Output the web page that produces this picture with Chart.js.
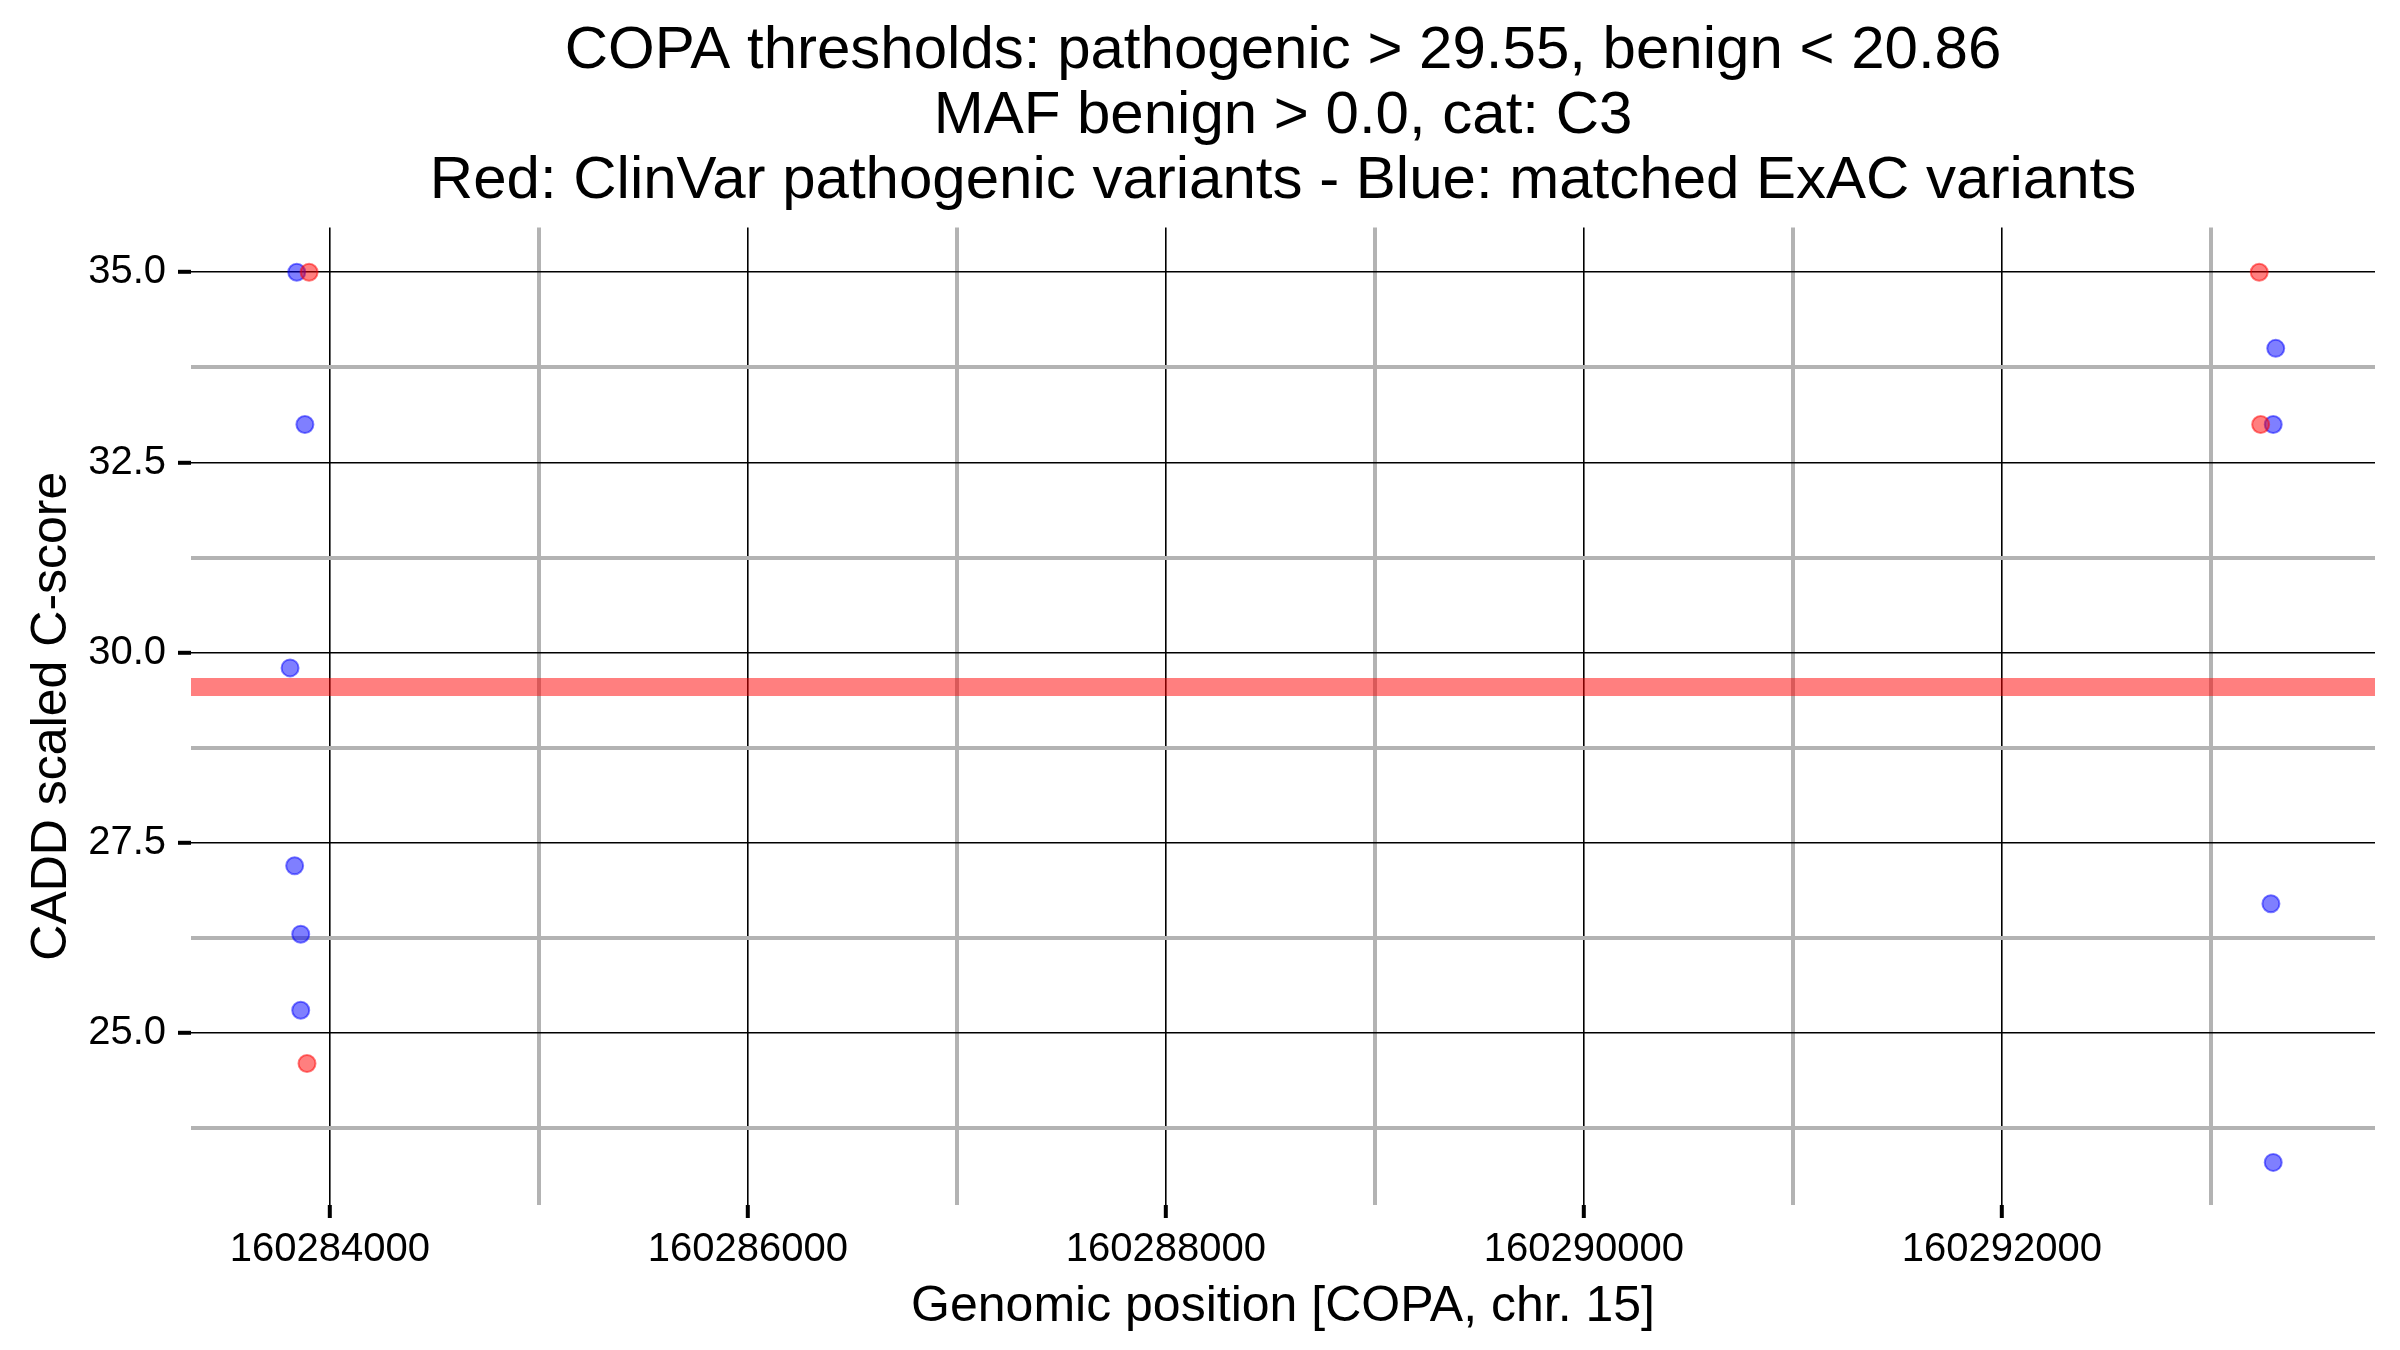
<!DOCTYPE html>
<html>
<head>
<meta charset="utf-8">
<script src="https://cdn.jsdelivr.net/npm/chart.js@4"></script>
<style>
  html, body { margin: 0; padding: 0; background: #fff; }
  #wrap { width: 2400px; height: 1350px; }
</style>
</head>
<body>
<div id="wrap"><canvas id="chart" width="2400" height="1350"></canvas></div>
<script>
// ClinVar pathogenic (red) and matched ExAC (blue) variants
const redPositions = [160283900, 160283890, 160293231, 160293238];
const redScores    = [35.0, 24.6, 35.0, 33.0];
const bluePositions = [160283841, 160283880, 160283809, 160283831, 160283860, 160283860, 160293310, 160293298, 160293287, 160293298];
const blueScores    = [35.0, 33.0, 29.8, 27.2, 26.3, 25.3, 34.0, 33.0, 26.7, 23.3];

const pathogenicThreshold = 29.55;

const xRange = [160283335, 160293785];
const yRange = [22.74, 35.59];
const xMajorTicks = [160284000, 160286000, 160288000, 160290000, 160292000];
const xMinorTicks = [160285000, 160287000, 160289000, 160291000, 160293000];
const yMajorTicks = [25.0, 27.5, 30.0, 32.5, 35.0];
const yMinorTicks = [23.75, 26.25, 28.75, 31.25, 33.75];

const titleLines = [
  'COPA thresholds: pathogenic > 29.55, benign < 20.86',
  'MAF benign > 0.0, cat: C3',
  'Red: ClinVar pathogenic variants - Blue: matched ExAC variants'
];

const FONT = 'Liberation Sans, Arial, Helvetica, sans-serif';
const toPoints = (xs, ys) => xs.map((x, i) => ({ x, y: ys[i] }));

function gridFor(majors) {
  const isMajor = ctx => ctx.tick && majors.includes(ctx.tick.value);
  return {
    color: ctx => isMajor(ctx) ? '#000000' : '#b3b3b3',
    lineWidth: ctx => isMajor(ctx) ? 1.6 : 4,
    tickColor: ctx => isMajor(ctx) ? '#000000' : 'rgba(0,0,0,0)',
    tickWidth: 4,
    tickLength: 13,
    drawTicks: true
  };
}

const ctx = document.getElementById('chart').getContext('2d');
new Chart(ctx, {
  type: 'scatter',
  data: {
    datasets: [
      {
        label: 'threshold',
        type: 'line',
        data: [{ x: xRange[0], y: pathogenicThreshold }, { x: xRange[1], y: pathogenicThreshold }],
        borderColor: 'rgba(255,0,0,0.5)',
        borderWidth: 18,
        borderCapStyle: 'butt',
        pointRadius: 0,
        fill: false,
        order: 3
      },
      {
        label: 'ExAC',
        data: toPoints(bluePositions, blueScores),
        backgroundColor: 'rgba(0,0,255,0.5)',
        borderColor: 'rgba(0,0,255,0.5)',
        borderWidth: 2,
        pointRadius: 8.5,
        order: 2
      },
      {
        label: 'ClinVar',
        data: toPoints(redPositions, redScores),
        backgroundColor: 'rgba(255,0,0,0.5)',
        borderColor: 'rgba(255,0,0,0.5)',
        borderWidth: 2,
        pointRadius: 8.5,
        order: 1
      }
    ]
  },
  options: {
    responsive: false,
    devicePixelRatio: 1,
    animation: false,
    layout: { padding: { left: 0, right: 25, top: 0, bottom: 0 } },
    plugins: {
      legend: { display: false },
      tooltip: { enabled: false },
      title: {
        display: true,
        fullSize: false,
        text: titleLines,
        color: '#000',
        font: { family: FONT, size: 60, weight: 'normal', lineHeight: 1.08 },
        padding: { top: 19, bottom: 14 }
      }
    },
    scales: {
      x: {
        type: 'linear',
        min: xRange[0],
        max: xRange[1],
        border: { display: false },
        grid: gridFor(xMajorTicks),
        afterBuildTicks: s => { s.ticks = xMajorTicks.concat(xMinorTicks).sort((a, b) => a - b).map(v => ({ value: v })); },
        afterFit: s => { s.height = 145; },
        ticks: {
          autoSkip: false,
          maxRotation: 0,
          padding: 8,
          color: '#000',
          font: { family: FONT, size: 40 },
          callback: v => xMajorTicks.includes(v) ? String(v) : ''
        },
        title: {
          display: true,
          text: 'Genomic position [COPA, chr. 15]',
          color: '#000',
          font: { family: FONT, size: 50, lineHeight: 1.2 },
          padding: { top: 0, bottom: 13 }
        }
      },
      y: {
        type: 'linear',
        min: yRange[0],
        max: yRange[1],
        border: { display: false },
        grid: gridFor(yMajorTicks),
        afterBuildTicks: s => { s.ticks = yMajorTicks.concat(yMinorTicks).sort((a, b) => a - b).map(v => ({ value: v })); },
        afterFit: s => { s.width = 191; },
        ticks: {
          autoSkip: false,
          padding: 12,
          color: '#000',
          font: { family: FONT, size: 40 },
          callback: v => yMajorTicks.includes(v) ? v.toFixed(1) : ''
        },
        title: {
          display: true,
          text: 'CADD scaled C-score',
          color: '#000',
          font: { family: FONT, size: 50, lineHeight: 1.2 },
          padding: { top: 22, bottom: 0 }
        }
      }
    }
  }
});
</script>
</body>
</html>
